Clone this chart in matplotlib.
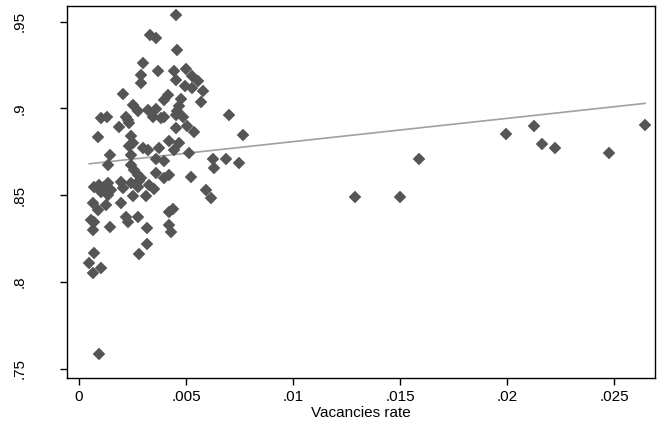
import numpy as np
import matplotlib.pyplot as plt

plt.rcParams['font.family'] = ['Liberation Sans', 'DejaVu Sans']

# vacancies rate vs. y
vac_rate = [
    0.00452, 0.00333, 0.00362, 0.00457, 0.00297, 0.00367, 0.00289, 0.00289,
    0.00444, 0.00452, 0.00499, 0.00530, 0.00554, 0.00494, 0.00526, 0.00577,
    0.00569, 0.00204, 0.00414, 0.00398, 0.00476, 0.00468, 0.00460, 0.00452,
    0.00484, 0.00250, 0.00274, 0.00323, 0.00359, 0.00344, 0.00395, 0.00701,
    0.00103, 0.00129, 0.00219, 0.00235, 0.00188, 0.00452, 0.00504, 0.00538,
    0.00764, 0.00087, 0.00243, 0.00235, 0.00421, 0.00468, 0.00444, 0.00512,
    0.00297, 0.00323, 0.00375, 0.00146, 0.00359, 0.00398, 0.00628, 0.00686,
    0.00748, 0.00631, 0.00134, 0.00243, 0.00258, 0.00274, 0.00359, 0.00421,
    0.00522, 0.00071, 0.00095, 0.00118, 0.00134, 0.00196, 0.00204, 0.00243,
    0.00281, 0.00274, 0.00328, 0.00351, 0.00592, 0.00616, 0.00250, 0.00313,
    0.00064, 0.00087, 0.00126, 0.00196, 0.00421, 0.00437, 0.00056, 0.00071,
    0.00064, 0.00146, 0.00219, 0.00227, 0.00274, 0.00317, 0.00421, 0.00429,
    0.00071, 0.00048, 0.00064, 0.00103, 0.00317, 0.00281, 0.00092, 0.01289,
    0.01502, 0.01590, 0.01996, 0.02127, 0.02161, 0.02222, 0.02477, 0.02645,
    0.00382, 0.00289, 0.00398, 0.00250, 0.00243, 0.00227, 0.00103, 0.00149,
    0.00134,
]
y_value = [
    0.9536, 0.9425, 0.9406, 0.9339, 0.9262, 0.9213, 0.9194, 0.9146,
    0.9213, 0.9166, 0.9227, 0.9189, 0.9161, 0.9127, 0.9118, 0.9098,
    0.9040, 0.9083, 0.9079, 0.9050, 0.9056, 0.9012, 0.8983, 0.8964,
    0.8950, 0.9021, 0.8983, 0.8993, 0.8997, 0.8950, 0.8950, 0.8964,
    0.8945, 0.8950, 0.8950, 0.8916, 0.8893, 0.8887, 0.8900, 0.8864,
    0.8848, 0.8835, 0.8839, 0.8785, 0.8815, 0.8804, 0.8758, 0.8743,
    0.8775, 0.8762, 0.8772, 0.8733, 0.8708, 0.8700, 0.8710, 0.8708,
    0.8685, 0.8656, 0.8675, 0.8675, 0.8646, 0.8618, 0.8627, 0.8618,
    0.8604, 0.8550, 0.8560, 0.8550, 0.8570, 0.8579, 0.8541, 0.8573,
    0.8585, 0.8550, 0.8560, 0.8535, 0.8531, 0.8483, 0.8498, 0.8498,
    0.8454, 0.8416, 0.8445, 0.8454, 0.8406, 0.8420, 0.8358, 0.8348,
    0.8300, 0.8320, 0.8377, 0.8348, 0.8377, 0.8310, 0.8329, 0.8291,
    0.8170, 0.8108, 0.8051, 0.8080, 0.8218, 0.8162, 0.7589, 0.8493,
    0.8493, 0.8708, 0.8854, 0.8900, 0.8796, 0.8775, 0.8746, 0.8904,
    0.8946, 0.8599, 0.8599, 0.8800, 0.8733, 0.8935, 0.8520, 0.8531,
    0.8500,
]

# linear fit as drawn in the reference
fit_intercept = 0.8675
fit_slope = 1.34

x_ticks = [0, 0.005, 0.01, 0.015, 0.02, 0.025]
x_labels = ['0', '.005', '.01', '.015', '.02', '.025']
y_ticks = [0.75, 0.8, 0.85, 0.9, 0.95]
y_labels = ['.75', '.8', '.85', '.9', '.95']

x = np.array(vac_rate)
y = np.array(y_value)
xfit = np.array([x.min(), x.max()])

fig = plt.figure(figsize=(6.59, 4.26), dpi=100)
ax = fig.add_axes([0.1017, 0.1127, 0.8922, 0.8732])

ax.plot(x, y, linestyle='none', marker='D', markersize=6.2,
        markerfacecolor='#555555', markeredgecolor='#555555',
        markeredgewidth=0.3, zorder=3)
ax.plot(xfit, fit_intercept + fit_slope * xfit, color='#a0a0a0', lw=1.2, zorder=2)

ax.set_xlim(-0.00056, 0.02691)
ax.set_ylim(0.7448, 0.959)
ax.set_xticks(x_ticks)
ax.set_xticklabels(x_labels, fontsize=11)
ax.set_yticks(y_ticks)
ax.set_yticklabels(y_labels, fontsize=11, rotation=90, va='center')
ax.tick_params(axis='both', direction='out', length=5, width=1, color='black')
ax.tick_params(axis='y', pad=24)
ax.tick_params(axis='x', pad=4)
ax.set_xlabel('Vacancies rate', fontsize=11, labelpad=1)
for s in ax.spines.values():
    s.set_linewidth(1)
    s.set_color('black')

fig.savefig('out.png', dpi=100)
